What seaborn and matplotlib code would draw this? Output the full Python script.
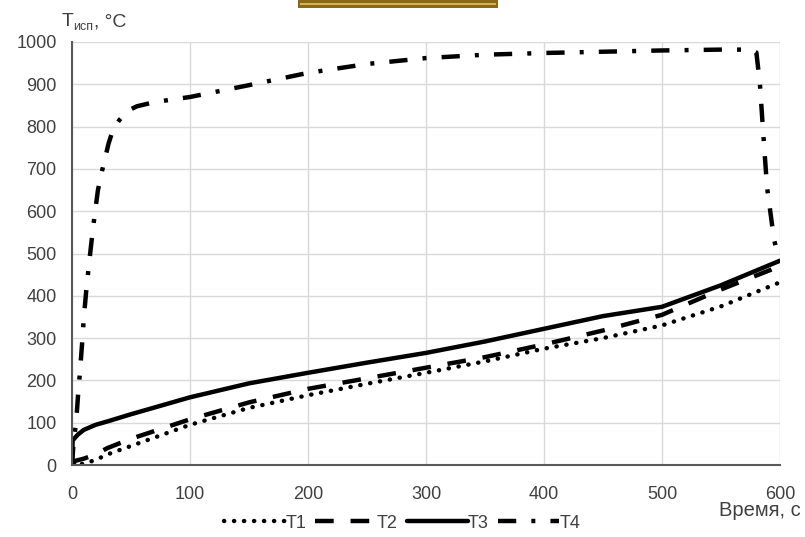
import matplotlib
matplotlib.use("Agg")
import matplotlib.pyplot as plt
import seaborn as sns
import pandas as pd
from matplotlib.patches import Rectangle

# ---- data ----
t1_time = [0, 10, 20, 30, 50, 75, 100, 150, 200, 250, 300, 350, 400, 450, 500, 550, 600]
t1_vals = [0, 3, 12, 25, 45, 70, 95, 135, 165, 192, 218, 245, 275, 300, 330, 375, 432]

t2_time = [0, 3, 10, 20, 30, 50, 75, 100, 150, 200, 250, 300, 350, 400, 450, 500, 550, 600]
t2_vals = [0, 10, 15, 25, 40, 62, 85, 108, 148, 180, 205, 230, 255, 285, 318, 355, 415, 470]

t3_time = [0, 0.5, 5, 10, 20, 30, 50, 75, 100, 150, 200, 250, 300, 350, 400, 450, 500, 550, 600]
t3_vals = [0, 58, 72, 83, 95, 103, 120, 140, 160, 193, 218, 242, 265, 292, 322, 352, 374, 425, 483]

t4_time = [0, 1.5, 3.4, 5, 6.8, 8.5, 10, 12, 14.4, 17, 19.5, 22, 25, 28, 31, 35, 40, 47, 55,
           70, 100, 150, 200, 250, 300, 350, 400, 450, 500, 550, 575, 580, 583, 585.6, 589, 595, 600]
t4_vals = [0, 60, 97, 160, 222, 285, 347, 410, 475, 540, 598, 650, 690, 725, 760, 795, 815, 837, 848,
           858, 870, 898, 927, 948, 962, 970, 974, 977, 980, 982, 982, 975, 900, 792, 657, 532, 478]

series_names = ["T1", "T2", "T3", "T4"]
x_ticks = [0, 100, 200, 300, 400, 500, 600]
y_ticks = [0, 100, 200, 300, 400, 500, 600, 700, 800, 900, 1000]

sns.set_theme(style="white")
plt.rcParams["font.family"] = ["Liberation Sans", "DejaVu Sans"]

fig = plt.figure(figsize=(8.05, 5.37), dpi=100)
ax = fig.add_axes([72/805, 1-465/537, (780-72)/805, (465-42)/537])

LW = 3.2
styles = {
    "T1": dict(linestyle=(0, (0.05, 2.2)), dash_capstyle="round", linewidth=LW),
    "T2": dict(linestyle=(0, (4.2, 3.8)), linewidth=LW),
    "T3": dict(linestyle="-", linewidth=LW),
    "T4": dict(linestyle=(0, (4.1, 3.4, 0.9, 3.4)), linewidth=LW),
}
data = {"T1": (t1_time, t1_vals), "T2": (t2_time, t2_vals),
        "T3": (t3_time, t3_vals), "T4": (t4_time, t4_vals)}

for name in series_names:
    tt, vv = data[name]
    df = pd.DataFrame({"t": tt, "v": vv})
    sns.lineplot(data=df, x="t", y="v", ax=ax, color="black", label=name,
                 sort=False, estimator=None, legend=False, **styles[name])

ax.set_xlim(0, 600)
ax.set_ylim(0, 1000)
ax.set_xticks(x_ticks)
ax.set_yticks(y_ticks)
ax.grid(True, color="#d9d9d9", linewidth=1)
ax.set_axisbelow(True)
for s in ["top", "right"]:
    ax.spines[s].set_visible(False)
for s in ["left", "bottom"]:
    ax.spines[s].set_color("#595959")
    ax.spines[s].set_linewidth(1.5)
ax.tick_params(axis="x", length=0, labelsize=13, labelcolor="#404040", pad=15)
ax.tick_params(axis="y", length=0, labelsize=13, labelcolor="#404040", pad=11)
ax.set_xlabel("")
ax.set_ylabel("")

# axis titles
fig.text(62/805, 1-22/537, "T", fontsize=14, color="#404040", va="center", ha="left")
fig.text(73/805, 1-27/537, "исп", fontsize=9, color="#404040", va="center", ha="left")
fig.text(94/805, 1-22/537, ", °C", fontsize=14, color="#404040", va="center", ha="left")
fig.text(801/805, 1-511/537, "Время, с", fontsize=14.5, color="#404040", va="center", ha="right")

handles, labels = ax.get_legend_handles_labels()
leg = fig.legend(handles, labels, loc="center", bbox_to_anchor=(402/805, 1-523/537), ncol=4,
                 frameon=False, fontsize=13, handlelength=3.4, columnspacing=0.5,
                 handletextpad=0.0, labelcolor="#404040")

# decorative gold strip at top
fig.patches.append(Rectangle((298/805, 1-8/537), 200/805, 10/537, transform=fig.transFigure,
                             facecolor="#8B6914", edgecolor="none", zorder=5))
fig.patches.append(Rectangle((300/805, 1-5/537), 196/805, 1.5/537, transform=fig.transFigure,
                             facecolor="#D6B25A", edgecolor="none", zorder=6))

fig.savefig("out.png", dpi=100)
